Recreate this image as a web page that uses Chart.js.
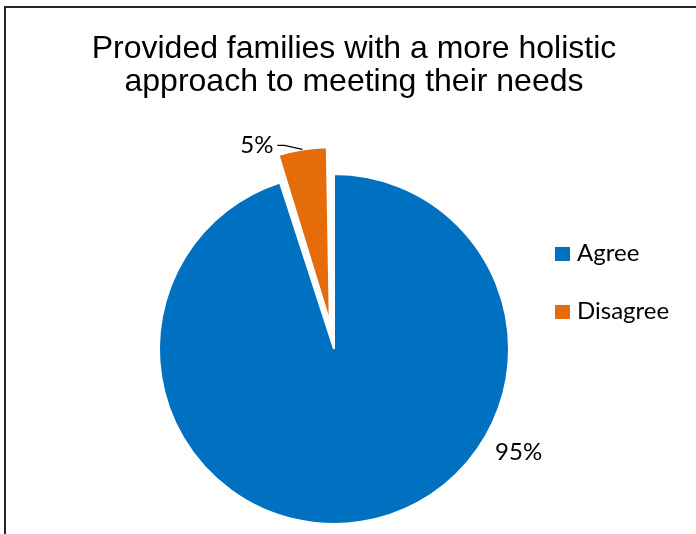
<!DOCTYPE html>
<html>
<head>
<meta charset="utf-8">
<script src="https://cdn.jsdelivr.net/npm/chart.js@4.4.1/dist/chart.umd.min.js"></script>
<style>
  html, body { margin: 0; padding: 0; background: #fff; overflow: hidden; width: 696px; height: 534px; }
  #frame { position: absolute; left: 4px; top: 6px; width: 800px; height: 700px;
           border-left: 2px solid #262626; border-top: 2px solid #262626; box-sizing: border-box; }
  #wrap { position: absolute; left: 0; top: 0; width: 696px; height: 591px; }
</style>
</head>
<body>
<div id="frame"></div>
<div id="wrap"><canvas id="chart"></canvas></div>
<script>
// Survey result
const titleLines = ['Provided families with a more holistic', 'approach to meeting their needs'];
const categories = ['Agree', 'Disagree'];
const shares = [95, 5];
const sliceColors = ['#0070C0', '#E46C0A'];

const labelFamily = "Lato, 'Open Sans', sans-serif";
const labelSize = 24;

// Chart.js moves an exploded arc by offset/4 and also grows its radius by
// that shift times this factor.
function radiusGrowth(arc) {
  const shift = (arc.options.offset || 0) / 4;
  return shift * (1 - Math.sin(Math.min(Math.PI, arc.circumference || 0)));
}

// Pull the radius back so the pulled-out slice keeps the pie's radius.
const keepRadius = {
  id: 'keepRadius',
  afterDatasetUpdate(chart, args) {
    args.meta.data.forEach(arc => { arc.outerRadius -= radiusGrowth(arc); });
  }
};

// Percent labels, leader line for the small slice, and the side legend
const pieText = {
  id: 'pieText',
  afterDatasetsDraw(chart) {
    const ctx = chart.ctx;
    const meta = chart.getDatasetMeta(0);
    const total = shares.reduce((a, b) => a + b, 0);
    ctx.save();
    ctx.font = labelSize + 'px ' + labelFamily;
    ctx.fillStyle = '#000';
    ctx.textBaseline = 'alphabetic';
    const capH = ctx.measureText('9').actualBoundingBoxAscent;

    meta.data.forEach((arc, i) => {
      const p = arc.getProps(['x', 'y', 'startAngle', 'endAngle', 'outerRadius'], true);
      const shift = (arc.options.offset || 0) / 4;
      const r = p.outerRadius + radiusGrowth(arc);
      const mid = (p.startAngle + p.endAngle) / 2;
      const pct = Math.round(shares[i] / total * 100) + '%';
      if (shift > 0) {
        // small exploded slice: label outside with a leader line
        const ex = p.x + Math.cos(mid) * (r + shift);
        const ey = p.y + Math.sin(mid) * (r + shift);
        ctx.strokeStyle = '#000';
        ctx.lineWidth = 1.3;
        ctx.beginPath();
        ctx.moveTo(ex, ey);
        ctx.lineTo(ex - 18, ey - 4);
        ctx.lineTo(ex - 25, ey - 4);
        ctx.stroke();
        ctx.textAlign = 'right';
        ctx.fillText(pct, ex - 29, ey - 4 + capH / 2 - 1);
      } else {
        // large slice: label outside, lower right
        const a = 29 * Math.PI / 180;
        const d = r * 1.206;
        const cx = p.x + Math.cos(a) * d;
        const cy = p.y + Math.sin(a) * d;
        ctx.textAlign = 'center';
        ctx.fillText(pct, cx, cy + capH / 2);
      }
    });

    // legend
    const arc0 = meta.data[0];
    const lx = arc0.x + arc0.outerRadius + 46;
    const ly0 = arc0.y - 95;
    const gap = 58;
    categories.forEach((name, i) => {
      const cy = ly0 + i * gap;
      ctx.fillStyle = sliceColors[i];
      ctx.fillRect(lx, cy - 7, 15, 14);
      ctx.fillStyle = '#000';
      ctx.textAlign = 'left';
      ctx.fillText(name, lx + 22, cy + capH / 2 - 1);
    });
    ctx.restore();
  }
};

new Chart(document.getElementById('chart'), {
  type: 'pie',
  data: {
    labels: categories,
    datasets: [{
      data: shares,
      backgroundColor: sliceColors,
      borderColor: '#ffffff',
      borderWidth: 2,
      offset: [0, 108],
      hoverOffset: 0
    }]
  },
  options: {
    responsive: true,
    maintainAspectRatio: false,
    animation: false,
    events: [],
    radius: 175,
    layout: { padding: { left: 12, right: 0, top: 0, bottom: 0 } },
    scales: {
      // empty gutter on the right so the pie sits left of the title's centre
      gutter: {
        type: 'linear', position: 'right', display: true,
        grid: { display: false, drawTicks: false },
        border: { display: false },
        ticks: { display: false },
        afterFit(scale) { scale.width = 40; }
      }
    },
    plugins: {
      legend: { display: false },
      tooltip: { enabled: false },
      title: {
        display: true,
        text: titleLines,
        color: '#000',
        font: { family: "'Liberation Sans', Arial, sans-serif", size: 32, weight: 'normal', lineHeight: 1.03 },
        padding: { top: 33, bottom: 8 }
      }
    }
  },
  plugins: [keepRadius, pieText]
});
</script>
</body>
</html>
